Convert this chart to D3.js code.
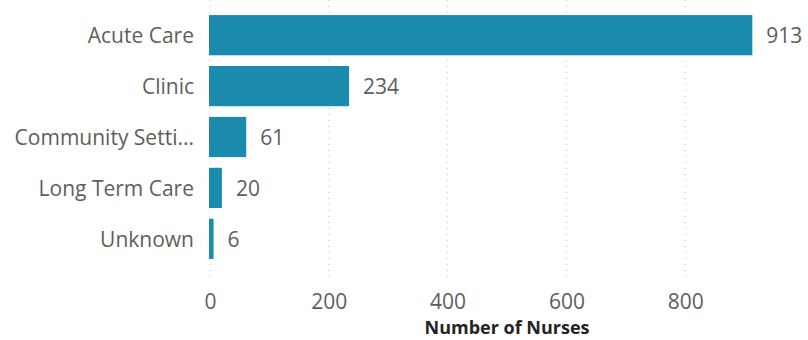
<!DOCTYPE html>
<html>
<head>
<meta charset="utf-8">
<script src="https://cdn.jsdelivr.net/npm/d3@7"></script>
<style>
  html, body { margin: 0; padding: 0; background: #ffffff; }
  svg { display: block; }
  text { font-family: "Segoe UI", "Open Sans", "Noto Sans", sans-serif; }
</style>
</head>
<body>
<svg id="chart" width="808" height="340"></svg>
<script>
// Nurses by care setting
const categories = ["Acute Care", "Clinic", "Community Setti...", "Long Term Care", "Unknown"];
const nurses = [913, 234, 61, 20, 6];
const tickValues = [0, 200, 400, 600, 800];
const axisTitle = "Number of Nurses";

const W = 808, H = 340;
const plot = { left: 210, right: 804, top: 10, bottom: 264 };
const FONT = "\"Segoe UI\", \"Open Sans\", \"Noto Sans\", sans-serif";

const svg = d3.select("#chart");

const x = d3.scaleLinear().domain([0, 1000]).range([plot.left, plot.right]);
const y = d3.scaleBand().domain(categories).range([plot.top, plot.bottom])
  .paddingInner(0.21).paddingOuter(0.1);

// dotted vertical gridlines
svg.append("g").selectAll("line").data(tickValues).join("line")
  .attr("x1", d => x(d)).attr("x2", d => x(d))
  .attr("y1", 0).attr("y2", 282)
  .attr("stroke", "#c8c6c4").attr("stroke-width", 1)
  .attr("stroke-dasharray", "1,5");

// bars
svg.append("g").selectAll("rect").data(nurses).join("rect")
  .attr("x", x(0) - 1)
  .attr("y", (d, i) => y(categories[i]))
  .attr("width", d => x(d) - x(0) + 1)
  .attr("height", y.bandwidth())
  .attr("fill", "#1a8aad");

// value labels
svg.append("g").selectAll("text").data(nurses).join("text")
  .attr("x", d => x(d) + 14)
  .attr("y", (d, i) => y(categories[i]) + y.bandwidth() / 2 + 8)
  .attr("fill", "#605e5c").attr("font-size", 21)
  .text(d => d);

// category labels
svg.append("g").selectAll("text").data(categories).join("text")
  .attr("x", 194)
  .attr("y", d => y(d) + y.bandwidth() / 2 + 8)
  .attr("text-anchor", "end")
  .attr("fill", "#605e5c").attr("font-size", 21)
  .text(d => d);

// x axis
const xAxis = d3.axisBottom(x).tickValues(tickValues).tickSize(0).tickPadding(0);
const gx = svg.append("g").attr("transform", "translate(0,309)").call(xAxis);
gx.select(".domain").remove();
gx.selectAll("text")
  .attr("y", 0).attr("dy", null)
  .attr("font-size", 21).attr("fill", "#605e5c")
  .attr("font-family", FONT);

svg.append("text")
  .attr("x", (plot.left + plot.right) / 2)
  .attr("y", 334)
  .attr("text-anchor", "middle")
  .attr("font-size", 18).attr("font-weight", "bold")
  .attr("fill", "#252423")
  .text(axisTitle);
</script>
</body>
</html>
